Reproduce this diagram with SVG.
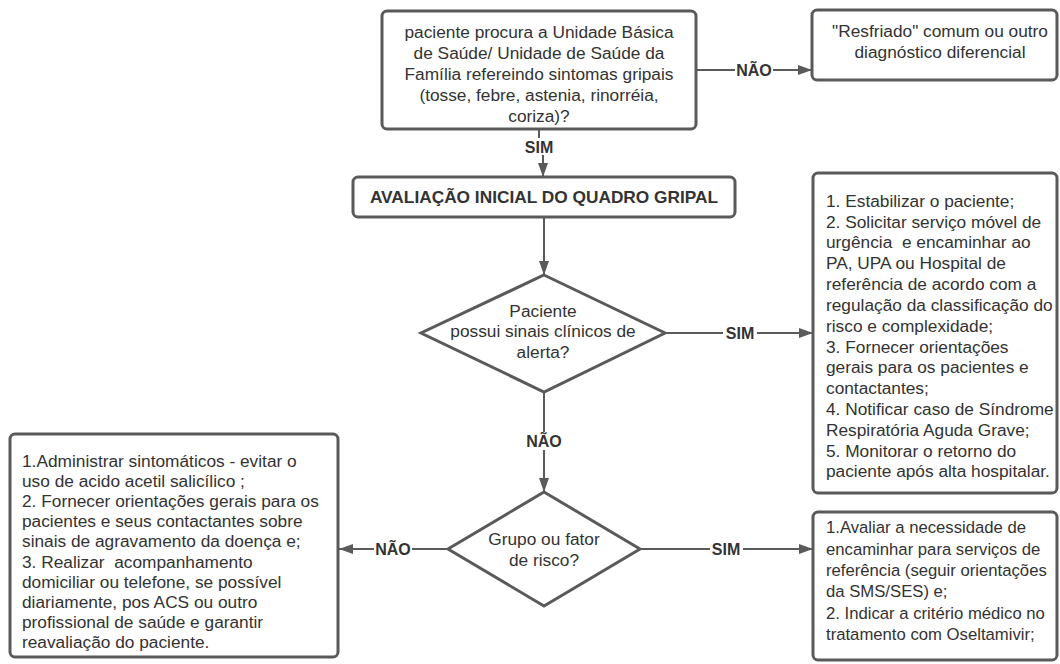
<svg xmlns="http://www.w3.org/2000/svg" width="1060" height="664" viewBox="0 0 1060 664">
<style>
.box{fill:#fff;stroke:#5a5a5a;stroke-width:3}
.t{font-family:"Liberation Sans",Arial,sans-serif;font-size:17.3px;fill:#333;white-space:pre}
.s{font-size:16.7px}
.c{text-anchor:middle}
.b{font-weight:bold}
.lbl{font-family:"Liberation Sans",Arial,sans-serif;font-size:16px;font-weight:bold;fill:#333;text-anchor:middle}
.ln{fill:none;stroke:#5a5a5a;stroke-width:2}
.bg{fill:#fff}
</style>
<defs>
<marker id="ah" viewBox="0 0 14 10" refX="14" refY="5" markerWidth="14" markerHeight="10" markerUnits="userSpaceOnUse" orient="auto">
<path d="M0,0 L14,5 L0,10 Z" fill="#5a5a5a"/>
</marker>
</defs>
<rect width="1060" height="664" fill="#fff"/>
<g id="connectors">
<path class="ln" d="M696,70 H812" marker-end="url(#ah)"/>
<path class="ln" d="M539,129 V147 H543 V177" marker-end="url(#ah)"/>
<path class="ln" d="M544,217 V275" marker-end="url(#ah)"/>
<path class="ln" d="M665,333 H813" marker-end="url(#ah)"/>
<path class="ln" d="M544,392 V492" marker-end="url(#ah)"/>
<path class="ln" d="M448,549 H339" marker-end="url(#ah)"/>
<path class="ln" d="M640,549 H813" marker-end="url(#ah)"/>
<rect class="bg" x="735" y="62" width="38" height="16"/>
<text class="lbl" x="754" y="76">NÃO</text>
<rect class="bg" x="523" y="138" width="32" height="17"/>
<text class="lbl" x="539" y="153">SIM</text>
<rect class="bg" x="723" y="325" width="34" height="16"/>
<text class="lbl" x="740" y="339">SIM</text>
<rect class="bg" x="525" y="432" width="38" height="18"/>
<text class="lbl" x="544" y="447">NÃO</text>
<rect class="bg" x="374" y="541" width="38" height="16"/>
<text class="lbl" x="393" y="555">NÃO</text>
<rect class="bg" x="710" y="541" width="33" height="16"/>
<text class="lbl" x="726" y="555">SIM</text>
</g>
<g id="n_inicio">
<rect class="box" x="382" y="11" width="314" height="118" rx="5"/>
<text class="t c" x="539" y="38">paciente procura a Unidade Básica</text>
<text class="t c" x="539" y="59">de Saúde/ Unidade de Saúde da</text>
<text class="t c" x="539" y="80">Família refereindo sintomas gripais</text>
<text class="t c" x="539" y="101">(tosse, febre, astenia, rinorréia,</text>
<text class="t c" x="539" y="122">coriza)?</text>
</g>
<g id="n_resfriado">
<rect class="box" x="812" y="10" width="245" height="70" rx="5"/>
<text class="t c" x="940" y="37">"Resfriado" comum ou outro</text>
<text class="t c" x="940" y="58">diagnóstico diferencial</text>
</g>
<g id="n_avaliacao">
<rect class="box" x="353" y="177" width="382" height="40" rx="5"/>
<text class="t c b" x="544" y="203">AVALIAÇÃO INICIAL DO QUADRO GRIPAL</text>
</g>
<g id="n_alerta">
<polygon class="box" points="544,275 665,333 544,392 421,333"/>
<text class="t c" x="543" y="317">Paciente</text>
<text class="t c" x="543" y="337">possui sinais clínicos de</text>
<text class="t c" x="543" y="358">alerta?</text>
</g>
<g id="n_grave">
<rect class="box" x="813" y="173" width="244" height="320" rx="5"/>
<text class="t" x="826" y="207">1. Estabilizar o paciente;</text>
<text class="t" x="826" y="228">2. Solicitar serviço móvel de</text>
<text class="t" x="826" y="248">urgência  e encaminhar ao</text>
<text class="t" x="826" y="269">PA, UPA ou Hospital de</text>
<text class="t" x="826" y="290">referência de acordo com a</text>
<text class="t" x="826" y="311">regulação da classificação do</text>
<text class="t" x="826" y="332">risco e complexidade;</text>
<text class="t" x="826" y="353">3. Fornecer orientações</text>
<text class="t" x="826" y="373">gerais para os pacientes e</text>
<text class="t" x="826" y="394">contactantes;</text>
<text class="t" x="826" y="415">4. Notificar caso de Síndrome</text>
<text class="t" x="826" y="436">Respiratória Aguda Grave;</text>
<text class="t" x="826" y="457">5. Monitorar o retorno do</text>
<text class="t" x="826" y="477">paciente após alta hospitalar.</text>
</g>
<g id="n_risco">
<polygon class="box" points="544,492 640,549 544,606 448,549"/>
<text class="t c" x="544" y="545">Grupo ou fator</text>
<text class="t c" x="544" y="566">de risco?</text>
</g>
<g id="n_sintomaticos">
<rect class="box" x="10" y="434" width="328" height="223" rx="5"/>
<text class="t" x="22" y="467">1.Administrar sintomáticos - evitar o</text>
<text class="t" x="22" y="487">uso de acido acetil salicílico ;</text>
<text class="t" x="22" y="507">2. Fornecer orientações gerais para os</text>
<text class="t" x="22" y="527">pacientes e seus contactantes sobre</text>
<text class="t" x="22" y="547">sinais de agravamento da doença e;</text>
<text class="t" x="22" y="568">3. Realizar  acompanhamento</text>
<text class="t" x="22" y="588">domiciliar ou telefone, se possível</text>
<text class="t" x="22" y="608">diariamente, pos ACS ou outro</text>
<text class="t" x="22" y="628">profissional de saúde e garantir</text>
<text class="t" x="22" y="648">reavaliação do paciente.</text>
</g>
<g id="n_oseltamivir">
<rect class="box" x="813" y="512" width="244" height="148" rx="5"/>
<text class="t s" x="826" y="533">1.Avaliar a necessidade de</text>
<text class="t s" x="826" y="555">encaminhar para serviços de</text>
<text class="t s" x="826" y="576">referência (seguir orientações</text>
<text class="t s" x="826" y="597">da SMS/SES) e;</text>
<text class="t s" x="826" y="619">2. Indicar a critério médico no</text>
<text class="t s" x="826" y="640">tratamento com Oseltamivir;</text>
</g>
</svg>
